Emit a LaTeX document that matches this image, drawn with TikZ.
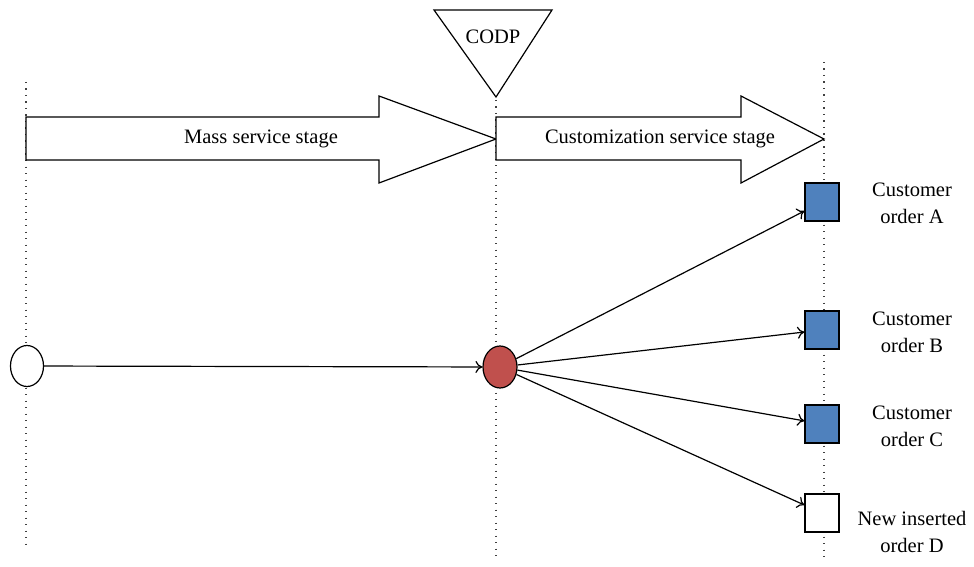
\documentclass[tikz,border=0pt]{standalone}
\usepackage{fontspec}
\setmainfont{Liberation Serif}
\usetikzlibrary{shapes.geometric,arrows.meta}
\definecolor{sqblue}{RGB}{79,129,189}
\definecolor{codpred}{RGB}{192,80,77}
\tikzset{
  guide/.style={dash pattern=on 1.3pt off 5.2pt, line width=1.3pt, black!75},
  stagearrow/.style={draw, line width=1.2pt, fill=white, line join=miter},
  flow/.style={line width=1.2pt, -{To[length=7pt,width=12pt]}},
  ordersq/.style={draw, line width=1.2pt, minimum width=34pt, minimum height=38pt, inner sep=0pt},
  lbl/.style={font=\fontsize{20.5}{27}\selectfont, align=center},
}
\begin{document}
\begin{tikzpicture}[x=1pt,y=-1pt]
\useasboundingbox (0,0) rectangle (974,567);
% vertical time guides
\draw[guide] (26,82) -- (26,545);
\draw[guide] (496,100) -- (496,560);
\draw[guide] (824,62) -- (824,560);
% stage arrows
\draw[stagearrow] (26,117) -- (379,117) -- (379,96) -- (496,139) -- (379,183) -- (379,160) -- (26,160) -- cycle;
\draw[stagearrow] (496,117) -- (741,117) -- (741,96) -- (824,139) -- (741,183) -- (741,160) -- (496,160) -- cycle;
\node[lbl] (mass) at (261,139) {Mass service stage};
\node[lbl] (custom) at (660,139) {Customization service stage};
% decoupling point marker
\draw[stagearrow] (434,10) -- (552,10) -- (496,97) -- cycle;
\node[lbl] (codp) at (493,37) {CODP};
% flow nodes
\node[ellipse, draw, line width=1.2pt, fill=white, minimum width=33pt, minimum height=41pt, inner sep=0pt] (start) at (27,366) {};
\node[ellipse, draw, line width=1.2pt, fill=codpred, minimum width=34pt, minimum height=42pt, inner sep=0pt] (cp) at (500,367) {};
\node[ordersq, fill=sqblue] (A) at (822,202) {};
\node[ordersq, fill=sqblue] (B) at (822,330) {};
\node[ordersq, fill=sqblue] (C) at (822,424) {};
\node[ordersq, fill=white] (D) at (822,513) {};
\draw[flow] (start) -- (cp);
\draw[flow] (cp) -- (A);
\draw[flow] (cp) -- (B);
\draw[flow] (cp) -- (C);
\draw[flow] (cp) -- (D);
% order labels
\node[lbl] (la) at (912,203) {Customer\\order A};
\node[lbl] (lb) at (912,332) {Customer\\order B};
\node[lbl] (lc) at (912,426) {Customer\\order C};
\node[lbl] (ld) at (912,532) {New inserted\\order D};
\end{tikzpicture}
\end{document}
